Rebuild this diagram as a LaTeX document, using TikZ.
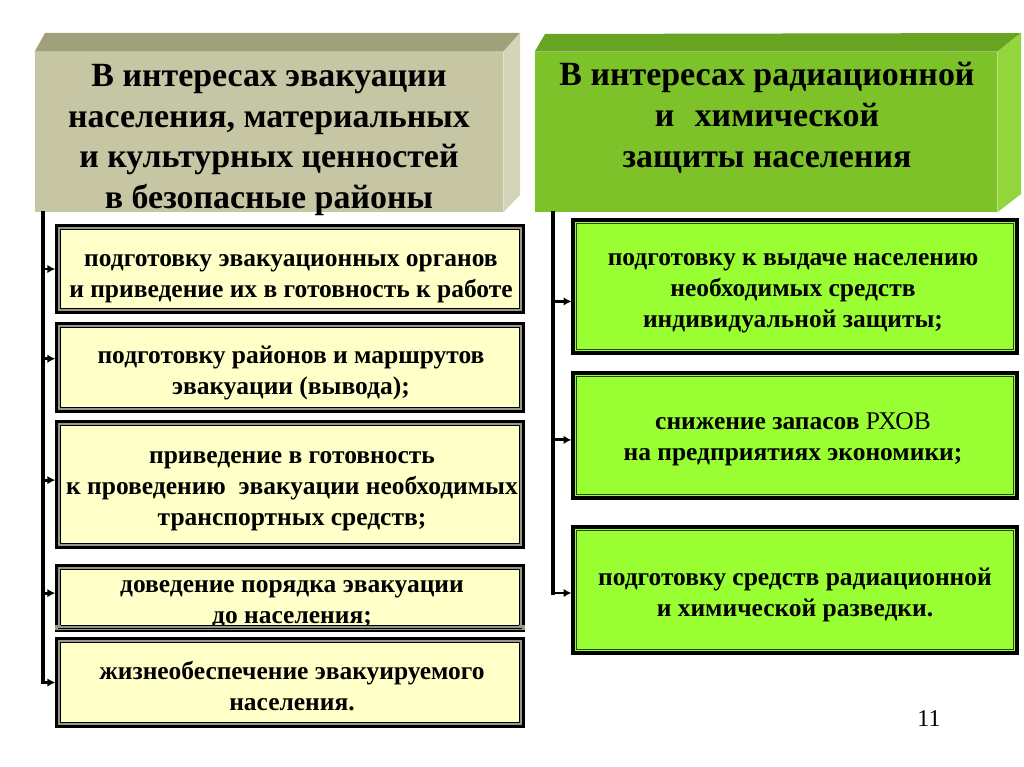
\documentclass[tikz,border=0pt]{standalone}
\usepackage{fontspec}
\setmainfont{Liberation Serif}
\usetikzlibrary{arrows.meta,calc}
\definecolor{khaki}{RGB}{198,198,164}
\definecolor{khakitop}{RGB}{160,160,122}
\definecolor{khakiside}{RGB}{212,212,184}
\definecolor{grn}{RGB}{124,194,40}
\definecolor{grntop}{RGB}{102,164,34}
\definecolor{grnside}{RGB}{146,214,60}
\definecolor{itemyellow}{RGB}{255,255,200}
\definecolor{itemgreen}{RGB}{153,255,51}
\definecolor{framegray}{RGB}{150,150,140}
\definecolor{darkline}{RGB}{40,70,20}
\tikzset{
  hdrtext/.style={align=center,inner sep=0pt,font=\fontsize{19.3}{23.2}\selectfont\bfseries},
  itemtext/.style={align=center,inner sep=0pt,font=\fontsize{14.5}{17.6}\selectfont\bfseries},
  ybox/.style={rectangle,inner sep=0pt,fill=framegray,draw=black,line width=0.9pt,minimum width=9.36cm},
  gbox/.style={rectangle,inner sep=0pt,fill=itemgreen,draw=black,line width=1.8pt,minimum width=8.88cm},
  trunk/.style={line width=2pt,line cap=rect},
  branch/.style={line width=1.6pt,-{Latex[length=4.5pt,width=4.8pt]}},
}
\begin{document}
\begin{tikzpicture}[x=0.02cm,y=-0.02cm]
\useasboundingbox[fill=white] (0,0) rectangle (1024,767);
% left header
\node[rectangle,inner sep=0pt,fill=khaki,minimum width=9.36cm,minimum height=3.2cm] (hL) at (269,132) {};
\fill[khakitop] (hL.north west) -- (45,33) -- (520,33) -- (hL.north east) -- cycle;
\fill[khakiside] (hL.north east) -- (520,33) -- (520,195) -- (hL.south east) -- cycle;
\node[hdrtext] (hLt) at (269,140) {В интересах эвакуации\\населения, материальных\\и культурных ценностей\\в безопасные районы};
% right header
\node[rectangle,inner sep=0pt,fill=grn,minimum width=9.24cm,minimum height=3.2cm] (hR) at (766,132) {};
\fill[grntop] (hR.north west) -- (545,34) -- (1021,33) -- (hR.north east) -- cycle;
\fill[grnside] (hR.north east) -- (1021,33) -- (1021,194) -- (hR.south east) -- cycle;
\node[hdrtext] (hRt) at (767,118) {В интересах радиационной\\и\hspace{0.6em}химической\\защиты населения};
% left items
\node[ybox,minimum height=1.76cm] (L1) at (290,269) {};
\node[ybox,minimum height=1.78cm] (L2) at (290,367.5) {};
\node[ybox,minimum height=2.54cm] (L3) at (290,484.5) {};
\node[ybox,minimum height=1.30cm] (L4) at (290,597.5) {};
\node[ybox,minimum height=1.78cm] (L5) at (290,682.5) {};
\foreach \n in {L1,L2,L3,L4,L5}{
  \draw[black,line width=0.5pt] ([shift={(2.5,2.5)}]\n.north west) rectangle ([shift={(-2.5,-2.5)}]\n.south east);
  \draw[black,line width=0.6pt,fill=itemyellow] ([shift={(5.5,5.5)}]\n.north west) rectangle ([shift={(-5.5,-5.5)}]\n.south east);
}
\node[itemtext] (L1t) at (291,279) {подготовку эвакуационных органов\\и приведение их в готовность к работе};
\node[itemtext] (L2t) at (291,373) {подготовку районов и маршрутов\\эвакуации (вывода);};
\node[itemtext] (L3t) at (292,491) {приведение в готовность\\к проведению\ \ эвакуации необходимых\\транспортных средств;};
\node[itemtext] (L4t) at (292,604) {доведение порядка эвакуации\\до населения;};
\node[itemtext] (L5t) at (292,686) {жизнеобеспечение эвакуируемого\\населения.};
% redraw L4 bottom frame over its text
\fill[framegray] ([shift={(0,-0.5)}]L4.south west) rectangle ([shift={(0,-5.5)}]L4.south east);
\draw[black,line width=0.9pt] (L4.south west) -- (L4.south east);
\draw[black,line width=0.5pt] ([shift={(2.5,-2.5)}]L4.south west) -- ([shift={(-2.5,-2.5)}]L4.south east);
\draw[black,line width=0.6pt] ([shift={(5.5,-5.5)}]L4.south west) -- ([shift={(-5.5,-5.5)}]L4.south east);
% right items
\node[gbox,minimum height=2.66cm] (R1) at (795,286.5) {};
\node[gbox,minimum height=2.50cm] (R2) at (795,435.5) {};
\node[gbox,minimum height=2.52cm] (R3) at (795,590) {};
\foreach \n in {R1,R2,R3}{
  \draw[darkline,line width=0.6pt] ([shift={(5,5)}]\n.north west) rectangle ([shift={(-5,-5)}]\n.south east);
}
\node[itemtext] (R1t) at (793,293) {подготовку к выдаче населению\\необходимых средств\\индивидуальной защиты;};
\node[itemtext] (R2t) at (793,439) {снижение запасов \textmd{РХОВ}\\на предприятиях экономики;};
\node[itemtext] (R3t) at (795,595) {подготовку средств радиационной\\и химической разведки.};
% connector end points
\coordinate (a1) at (L1.west);
\coordinate (a2) at ([yshift=5pt]L2.west);
\coordinate (a3) at ([yshift=2.5pt]L3.west);
\coordinate (a4) at ([yshift=2.5pt]L4.west);
\coordinate (a5) at (L5.west);
\coordinate (b1) at ([yshift=-8.5pt]R1.west);
\coordinate (b2) at ([yshift=-2.5pt]R2.west);
\coordinate (b3) at ([yshift=-1.7pt]R3.west);
% connectors left
\coordinate (LT) at (43,213);
\draw[trunk] (LT) -- (LT |- a5);
\foreach \a in {a1,a2,a3,a4,a5}{\draw[branch] (LT |- \a) -- (\a);}
% connectors right
\coordinate (RT) at (553,213);
\draw[trunk] (RT) -- (RT |- b3);
\foreach \b in {b1,b2,b3}{\draw[branch] (RT |- \b) -- (\b);}
% page number
\node[inner sep=0pt,font=\fontsize{13.7}{16}\selectfont] (pg) at (929,719) {11};
\end{tikzpicture}
\end{document}
